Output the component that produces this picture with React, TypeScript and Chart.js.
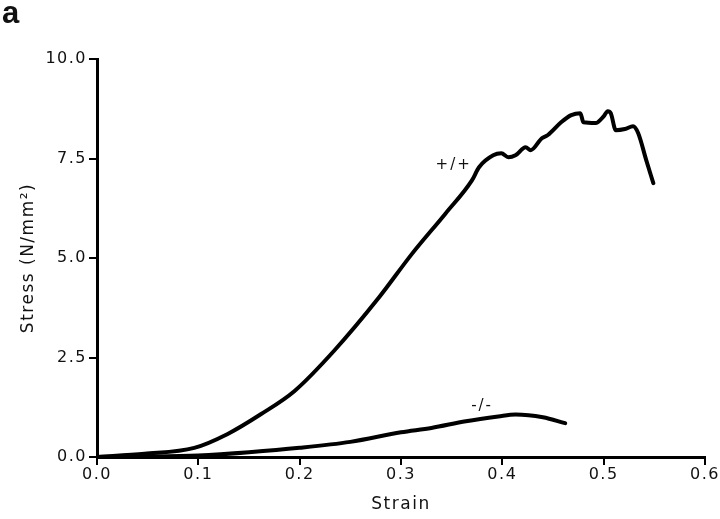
import React, { useEffect, useRef } from "react";
import { Chart, registerables } from "chart.js";

Chart.register(...registerables);

const wtStrain = [0, 0.047, 0.096, 0.129, 0.162, 0.195, 0.234, 0.278, 0.311, 0.344, 0.37, 0.377, 0.391, 0.399, 0.406, 0.413, 0.423, 0.428, 0.439, 0.445, 0.458, 0.468, 0.477, 0.48, 0.492, 0.5, 0.504, 0.507, 0.512, 0.521, 0.529, 0.534, 0.542, 0.549];
const wtStress = [0, 0.08, 0.23, 0.58, 1.08, 1.66, 2.67, 4.0, 5.11, 6.12, 6.95, 7.28, 7.58, 7.63, 7.53, 7.58, 7.78, 7.71, 8.01, 8.09, 8.41, 8.59, 8.64, 8.41, 8.39, 8.56, 8.69, 8.64, 8.21, 8.24, 8.31, 8.14, 7.46, 6.88];

const koStrain = [0, 0.05, 0.1, 0.15, 0.2, 0.25, 0.3, 0.33, 0.364, 0.396, 0.413, 0.44, 0.462];
const koStress = [0, 0.01, 0.04, 0.12, 0.23, 0.38, 0.62, 0.73, 0.9, 1.02, 1.07, 1.0, 0.85];

const xTicks = [0, 0.1, 0.2, 0.3, 0.4, 0.5, 0.6];
const yTicks = [0, 2.5, 5, 7.5, 10];

const seriesLabels = [
  { text: "+/+", x: 0.352, y: 7.33 },
  { text: "-/-", x: 0.38, y: 1.28 },
];

const FONT = "'DejaVu Sans', sans-serif";

export default function App() {
  const ref = useRef<HTMLCanvasElement | null>(null);
  useEffect(() => {
    if (!ref.current) return;
    const spacingPlugin = {
      id: "spacing",
      beforeDraw(chart: any) {
        (chart.ctx as any).letterSpacing = "1.5px";
      },
    };
    const labelPlugin = {
      id: "labels",
      afterDraw(chart: any) {
        const ctx = chart.ctx;
        const xs = chart.scales.x;
        const ys = chart.scales.y;
        ctx.save();
        ctx.fillStyle = "#111";
        ctx.font = `15px ${FONT}`;
        ctx.letterSpacing = "2px";
        ctx.textAlign = "center";
        ctx.textBaseline = "middle";
        for (const l of seriesLabels) {
          ctx.fillText(l.text, xs.getPixelForValue(l.x), ys.getPixelForValue(l.y));
        }
        ctx.letterSpacing = "0px";
        ctx.font = `bold 31px 'Liberation Sans', Arial, sans-serif`;
        ctx.textAlign = "left";
        ctx.textBaseline = "alphabetic";
        ctx.fillText("a", 2, 23);
        ctx.restore();
      },
    };
    const chart = new Chart(ref.current, {
      type: "line",
      data: {
        datasets: [
          {
            label: "+/+",
            data: wtStrain.map((x, i) => ({ x, y: wtStress[i] })),
            borderColor: "#000",
            borderWidth: 4,
            pointRadius: 0,
            cubicInterpolationMode: "monotone",
            borderCapStyle: "round",
            borderJoinStyle: "round",
          },
          {
            label: "-/-",
            data: koStrain.map((x, i) => ({ x, y: koStress[i] })),
            borderColor: "#000",
            borderWidth: 4,
            pointRadius: 0,
            cubicInterpolationMode: "monotone",
            borderCapStyle: "round",
            borderJoinStyle: "round",
          },
        ],
      },
      options: {
        animation: false,
        responsive: false,
        maintainAspectRatio: false,
        layout: { padding: { top: 59, right: 15, left: 0, bottom: 0 } },
        plugins: { legend: { display: false }, tooltip: { enabled: false } },
        scales: {
          x: {
            type: "linear",
            min: 0,
            max: 0.6,
            afterBuildTicks: (s: any) => {
              s.ticks = xTicks.map((v) => ({ value: v }));
            },
            afterFit: (s: any) => {
              s.height = 62;
            },
            ticks: {
              color: "#111",
              font: { family: FONT, size: 16 },
              callback: (v: any) => Number(v).toFixed(1),
              padding: 0,
              maxRotation: 0,
            },
            grid: { drawOnChartArea: false, drawTicks: true, tickLength: 8, color: "#000", lineWidth: 2 },
            border: { display: true, color: "#000", width: 3 },
            title: { display: true, text: "Strain", color: "#111", font: { family: FONT, size: 17 }, padding: { top: 4, bottom: 4 } },
          },
          y: {
            type: "linear",
            min: 0,
            max: 10,
            afterBuildTicks: (s: any) => {
              s.ticks = yTicks.map((v) => ({ value: v }));
            },
            afterFit: (s: any) => {
              s.width = 97;
            },
            ticks: {
              color: "#111",
              font: { family: FONT, size: 16 },
              callback: (v: any) => Number(v).toFixed(1),
              padding: 2,
            },
            grid: { drawOnChartArea: false, drawTicks: true, tickLength: 8, color: "#000", lineWidth: 2 },
            border: { display: true, color: "#000", width: 3 },
            title: { display: true, text: "Stress (N/mm²)", color: "#111", font: { family: FONT, size: 17 }, padding: { top: 18, bottom: 4 } },
          },
        },
      },
      plugins: [spacingPlugin, labelPlugin],
    } as any);
    return () => chart.destroy();
  }, []);
  return (
    <div style={{ position: "absolute", left: 0, top: 0, width: 720, height: 519, background: "#fff" }}>
      <canvas ref={ref} width={720} height={519} style={{ width: 720, height: 519, display: "block" }} />
    </div>
  );
}
